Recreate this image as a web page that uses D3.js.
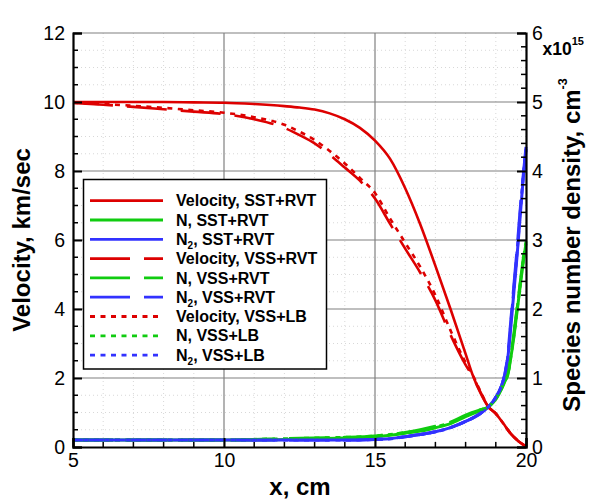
<!DOCTYPE html>
<html>
<head>
<meta charset="utf-8">
<script src="https://cdn.jsdelivr.net/npm/d3@7"></script>
<style>
    html, body { margin: 0; padding: 0; background: #fff; }
    svg { display: block; }
    text { font-family: "Liberation Sans", Arial, Helvetica, sans-serif; }
</style>
</head>
<body>
<svg id="chart" width="593" height="502"></svg>
<script>
// Velocity and species number density along x (Tecplot style plot)

const velocityX = [5, 6, 7, 8, 9, 10, 11, 12, 12.5, 13, 13.5, 14, 14.5, 15, 15.5, 16, 16.5, 17, 17.5, 18, 18.25, 18.5, 18.75, 19, 19.25, 19.5, 19.75, 20];
const velocitySST = [10.0, 10.0, 10.0, 10.0, 9.99, 9.98, 9.94, 9.88, 9.84, 9.78, 9.67, 9.5, 9.25, 8.88, 8.35, 7.5, 6.45, 5.25, 4.0, 2.7, 2.05, 1.55, 1.17, 0.97, 0.68, 0.38, 0.17, 0.02];
const velocityVSSRVT = [9.97, 9.92, 9.86, 9.79, 9.72, 9.65, 9.5, 9.25, 9.04, 8.8, 8.47, 8.1, 7.72, 7.2, 6.47, 5.75, 5.05, 4.25, 3.25, 2.38, 2.02, 1.58, 1.17, 0.97, 0.68, 0.38, 0.17, 0.02];
const velocityVSSLB = [9.98, 9.94, 9.89, 9.83, 9.76, 9.69, 9.56, 9.34, 9.14, 8.9, 8.58, 8.22, 7.8, 7.36, 6.62, 5.92, 5.22, 4.4, 3.38, 2.45, 2.06, 1.6, 1.17, 0.97, 0.68, 0.38, 0.17, 0.02];

const densityX = [5, 6, 7, 8, 9, 10, 11, 12, 13, 14, 15, 15.5, 16, 16.5, 17, 17.5, 18, 18.5, 18.75, 19, 19.2, 19.3, 19.4, 19.5, 19.6, 19.7, 19.8, 19.9, 20];
const nSST = [0.1, 0.1, 0.1, 0.1, 0.1, 0.1, 0.1, 0.11, 0.12, 0.13, 0.15, 0.17, 0.2, 0.23, 0.28, 0.34, 0.44, 0.53, 0.58, 0.69, 0.85, 0.95, 1.05, 1.3, 1.6, 1.95, 2.3, 2.65, 2.95];
const n2SST = [0.1, 0.1, 0.1, 0.1, 0.1, 0.1, 0.1, 0.1, 0.1, 0.1, 0.11, 0.12, 0.15, 0.18, 0.22, 0.28, 0.37, 0.49, 0.58, 0.72, 0.9, 1.05, 1.3, 1.75, 2.25, 2.75, 3.3, 3.85, 4.3];
const nVSSRVT = [0.1, 0.1, 0.1, 0.1, 0.1, 0.1, 0.11, 0.12, 0.13, 0.14, 0.16, 0.18, 0.21, 0.25, 0.3, 0.36, 0.46, 0.54, 0.58, 0.7, 0.86, 0.96, 1.07, 1.33, 1.65, 2.0, 2.35, 2.7, 3.0];
const n2VSSRVT = [0.1, 0.1, 0.1, 0.1, 0.1, 0.1, 0.1, 0.1, 0.1, 0.1, 0.11, 0.12, 0.15, 0.18, 0.22, 0.28, 0.37, 0.49, 0.58, 0.72, 0.9, 1.06, 1.35, 1.85, 2.35, 2.85, 3.4, 3.9, 4.35];
const nVSSLB = [0.1, 0.1, 0.1, 0.1, 0.1, 0.1, 0.11, 0.12, 0.13, 0.14, 0.16, 0.18, 0.21, 0.24, 0.29, 0.35, 0.45, 0.54, 0.58, 0.7, 0.86, 0.96, 1.06, 1.32, 1.62, 1.98, 2.33, 2.68, 2.98];
const n2VSSLB = [0.1, 0.1, 0.1, 0.1, 0.1, 0.1, 0.1, 0.1, 0.1, 0.1, 0.11, 0.12, 0.15, 0.18, 0.22, 0.28, 0.37, 0.49, 0.58, 0.72, 0.9, 1.05, 1.32, 1.8, 2.3, 2.8, 3.35, 3.88, 4.32];

const xTicks = [5, 10, 15, 20];
const leftTicks = [0, 2, 4, 6, 8, 10, 12];
const rightTicks = [0, 1, 2, 3, 4, 5, 6];

const RED = "#dd0000";
const GREEN = "#10cc10";
const BLUE = "#3232ff";
const SOLID = null;
const LONG_DASH = "40,14";
const SHORT_DASH = "5,5.5";

// series in legend order (also drawing order)
const series = [
    { label: "Velocity, SST+RVT", x: velocityX, y: velocitySST, axis: "left", color: RED, dash: SOLID },
    { label: "N, SST+RVT", x: densityX, y: nSST, axis: "right", color: GREEN, dash: SOLID },
    { label: "N|2|, SST+RVT", x: densityX, y: n2SST, axis: "right", color: BLUE, dash: SOLID },
    { label: "Velocity, VSS+RVT", x: velocityX, y: velocityVSSRVT, axis: "left", color: RED, dash: LONG_DASH },
    { label: "N, VSS+RVT", x: densityX, y: nVSSRVT, axis: "right", color: GREEN, dash: LONG_DASH },
    { label: "N|2|, VSS+RVT", x: densityX, y: n2VSSRVT, axis: "right", color: BLUE, dash: LONG_DASH },
    { label: "Velocity, VSS+LB", x: velocityX, y: velocityVSSLB, axis: "left", color: RED, dash: SHORT_DASH },
    { label: "N, VSS+LB", x: densityX, y: nVSSLB, axis: "right", color: GREEN, dash: SHORT_DASH },
    { label: "N|2|, VSS+LB", x: densityX, y: n2VSSLB, axis: "right", color: BLUE, dash: SHORT_DASH }
];

const plot = { left: 73, right: 526, top: 33, bottom: 447 };

const x = d3.scaleLinear().domain([5, 20]).range([plot.left, plot.right]);
const yLeft = d3.scaleLinear().domain([0, 12]).range([plot.bottom, plot.top]);
const yRight = d3.scaleLinear().domain([0, 6]).range([plot.bottom, plot.top]);

// write "N|2|, ..." as N with a subscript 2
function addLabel(textSel, label) {
    const parts = label.split("|");
    parts.forEach((p, i) => {
        if (i % 2 === 1) {
            textSel.append("tspan").attr("font-size", "10px").attr("dy", "4").text(p);
        } else if (i > 0) {
            textSel.append("tspan").attr("dy", "-4").text(p);
        } else {
            textSel.append("tspan").text(p);
        }
    });
}

function drawChart() {
    const svg = d3.select("#chart");
    svg.selectAll("*").remove();

    svg.append("rect").attr("width", 593).attr("height", 502).attr("fill", "#fff");

    // minor grid, faint dotted
    const grid = svg.append("g");
    d3.range(6, 20, 1).filter(v => v % 5 !== 0).forEach(v => {
        grid.append("line")
            .attr("x1", x(v)).attr("x2", x(v))
            .attr("y1", plot.top).attr("y2", plot.bottom)
            .attr("stroke", "#d8d8d8").attr("stroke-width", 1)
            .attr("stroke-dasharray", "1,3");
    });
    d3.range(0.5, 12, 0.5).filter(v => v % 2 !== 0).forEach(v => {
        grid.append("line")
            .attr("x1", plot.left).attr("x2", plot.right)
            .attr("y1", yLeft(v)).attr("y2", yLeft(v))
            .attr("stroke", "#d8d8d8").attr("stroke-width", 1)
            .attr("stroke-dasharray", "1,3");
    });

    // major grid
    [10, 15].forEach(v => {
        grid.append("line")
            .attr("x1", x(v)).attr("x2", x(v))
            .attr("y1", plot.top).attr("y2", plot.bottom)
            .attr("stroke", "#808080").attr("stroke-width", 1.2);
    });
    leftTicks.filter(v => v > 0).forEach(v => {
        grid.append("line")
            .attr("x1", plot.left).attr("x2", plot.right)
            .attr("y1", yLeft(v)).attr("y2", yLeft(v))
            .attr("stroke", "#808080").attr("stroke-width", 1.2);
    });

    // data lines
    const lines = svg.append("g").attr("fill", "none");
    series.forEach(s => {
        const yScale = s.axis === "left" ? yLeft : yRight;
        const line = d3.line()
            .x(d => x(d[0]))
            .y(d => yScale(d[1]))
            .curve(d3.curveMonotoneX);
        lines.append("path")
            .datum(s.x.map((v, i) => [v, s.y[i]]))
            .attr("d", line)
            .attr("stroke", s.color)
            .attr("stroke-width", s.axis === "left" ? 2.6 : 3)
            .attr("stroke-dasharray", s.dash);
    });

    // axes, ticks pointing inward
    const axisG = svg.append("g").attr("font-size", "19.5px").attr("fill", "#000");

    const xAxis = d3.axisBottom(x).tickValues(xTicks).tickSize(-9).tickPadding(6).tickFormat(d3.format("d"));
    const gx = axisG.append("g").attr("transform", `translate(0,${plot.bottom})`).call(xAxis);

    const yAxisL = d3.axisLeft(yLeft).tickValues(leftTicks).tickSize(-9).tickPadding(8).tickFormat(d3.format("d"));
    const gl = axisG.append("g").attr("transform", `translate(${plot.left},0)`).call(yAxisL);

    const yAxisR = d3.axisRight(yRight).tickValues(rightTicks).tickSize(-9).tickPadding(6).tickFormat(d3.format("d"));
    const gr = axisG.append("g").attr("transform", `translate(${plot.right},0)`).call(yAxisR);

    // minor ticks
    const minor = axisG.append("g").attr("stroke", "#000").attr("stroke-width", 1.5);
    d3.range(6, 20, 1).filter(v => v % 5 !== 0).forEach(v => {
        minor.append("line").attr("x1", x(v)).attr("x2", x(v))
            .attr("y1", plot.bottom).attr("y2", plot.bottom - 5);
    });
    d3.range(0.5, 12, 0.5).filter(v => v % 2 !== 0).forEach(v => {
        minor.append("line").attr("x1", plot.left).attr("x2", plot.left + 5)
            .attr("y1", yLeft(v)).attr("y2", yLeft(v));
    });
    d3.range(1, 30, 1).filter(v => v % 5 !== 0).forEach(i => {
        const v = i / 5;
        minor.append("line").attr("x1", plot.right).attr("x2", plot.right - 5)
            .attr("y1", yRight(v)).attr("y2", yRight(v));
    });

    [gx, gl, gr].forEach(g => {
        g.select(".domain").attr("stroke", "#000").attr("stroke-width", 2.2);
        g.selectAll(".tick line").attr("stroke", "#000").attr("stroke-width", 2);
        g.selectAll(".tick text")
            .attr("font-family", "'Liberation Sans', Arial, Helvetica, sans-serif")
            .attr("font-size", "19.5px").attr("fill", "#000");
    });
    gx.selectAll(".tick text").attr("dy", "0.71em");

    // axis titles
    svg.append("text")
        .attr("transform", `translate(30,${(plot.top + plot.bottom) / 2}) rotate(-90)`)
        .attr("text-anchor", "middle")
        .attr("font-size", "24px").attr("font-weight", "bold")
        .text("Velocity, km/sec");

    svg.append("text")
        .attr("x", (plot.left + plot.right) / 2 + 0.5)
        .attr("y", 495)
        .attr("text-anchor", "middle")
        .attr("font-size", "24px").attr("font-weight", "bold")
        .text("x, cm");

    const rightTitle = svg.append("text")
        .attr("transform", `translate(580,${(plot.top + plot.bottom) / 2 + 5}) rotate(-90)`)
        .attr("text-anchor", "middle")
        .attr("font-size", "24px").attr("font-weight", "bold");
    rightTitle.append("tspan").text("Species number density, cm");
    rightTitle.append("tspan").attr("font-size", "12.5px").attr("dy", "-13").text("-3");

    const mult = svg.append("text")
        .attr("x", 542.5).attr("y", 55)
        .attr("font-size", "17.5px").attr("font-weight", "bold");
    mult.append("tspan").text("x10");
    mult.append("tspan").attr("font-size", "11px").attr("dy", "-10").text("15");

    drawLegend(svg);
}

function drawLegend(svg) {
    const box = { x: 83.5, y: 179.5, w: 243, h: 189.5 };
    const rowStart = 200.7;
    const rowStep = 19.3;

    const legend = svg.append("g");
    legend.append("rect")
        .attr("x", box.x).attr("y", box.y)
        .attr("width", box.w).attr("height", box.h)
        .attr("fill", "#fff").attr("stroke", "#000").attr("stroke-width", 1.5);

    series.forEach((s, i) => {
        const cy = rowStart + i * rowStep;
        legend.append("line")
            .attr("x1", 90).attr("x2", 163)
            .attr("y1", cy).attr("y2", cy)
            .attr("stroke", s.color).attr("stroke-width", 2.8)
            .attr("stroke-dasharray", s.dash);
        const t = legend.append("text")
            .attr("x", 176).attr("y", cy + 5.6)
            .attr("font-size", "16px").attr("font-weight", "bold");
        addLabel(t, s.label);
    });
}

document.addEventListener('DOMContentLoaded', function () {
    drawChart();
});
</script>
</body>
</html>
